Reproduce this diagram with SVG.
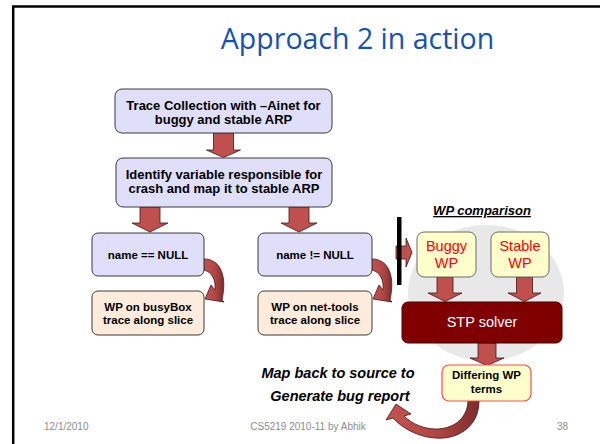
<svg xmlns="http://www.w3.org/2000/svg" width="600" height="444" viewBox="0 0 600 444">
  <defs>
    <linearGradient id="curlFill" x1="0" y1="0" x2="1" y2="0">
      <stop offset="0" stop-color="#C55451"/>
      <stop offset="0.55" stop-color="#B04644"/>
      <stop offset="1" stop-color="#7E2C2A"/>
    </linearGradient>
  </defs>
  <style>
    .frame{fill:none;stroke:#000;stroke-width:2.5}
    .lav{fill:#DFDFF9;stroke:#3a3a3a;stroke-width:1}
    .peach{fill:#FDEBDC;stroke:#3a3a3a;stroke-width:1}
    .pale{fill:#FFFFCC;stroke:#6a6a6a;stroke-width:1}
    .paleRed{fill:#FFFFCC;stroke:#FF4A4A;stroke-width:1.2}
    .solver{fill:#800000;stroke:#4a0000;stroke-width:1}
    .arrow{fill:#C0504D;stroke:#3f1716;stroke-width:0.8}
    .curl{fill:url(#curlFill);stroke:#3f1716;stroke-width:0.8}
    .b13{font-family:"Liberation Sans",Arial,sans-serif;font-weight:bold;font-size:13px;fill:#000;text-anchor:middle}
    .b11{font-family:"Liberation Sans",Arial,sans-serif;font-weight:bold;font-size:11.5px;fill:#000;text-anchor:middle}
    .red{font-family:"Liberation Sans",Arial,sans-serif;font-size:14.5px;fill:#FF0000;text-anchor:middle}
    .white{font-family:"Liberation Sans",Arial,sans-serif;font-size:14.5px;fill:#FFFFFF;text-anchor:middle}
    .bi{font-family:"Liberation Sans",Arial,sans-serif;font-weight:bold;font-style:italic;fill:#000;text-anchor:middle}
    .foot{font-family:"Liberation Sans",Arial,sans-serif;font-size:10px;fill:#8C8C8C}
    .title{font-family:"Open Sans","Noto Sans",sans-serif;font-size:28.5px;fill:#1553AE;text-anchor:middle}
  </style>

  <!-- slide frame -->
  <path class="frame" d="M13.2,444 V6.5 H600"/>

  <text class="title" x="357.5" y="49">Approach 2 in action</text>

  <!-- backdrop behind the comparison stage -->
  <ellipse cx="486" cy="293" rx="78" ry="68" fill="#E8E8E8"/>

  <!-- connectors -->
  <g id="connectors">
    <path class="arrow" d="M213.5,133 H233.5 V150 H240.5 L223.5,157.5 L206.5,150 H213.5 Z"/>
    <path class="arrow" d="M140,207 H160 V223 H168 L150,232 L132,223 H140 Z"/>
    <path class="arrow" d="M289,207 H309 V223 H317 L299,232 L281,223 H289 Z"/>
    <!-- curved hand-offs from each condition to its WP slice -->
    <path class="curl" d="M204,259 C218,259 228,272 222,300 L224,302 L205,299 L211,285 L215,290 C216,280 212,272 204,270 Z"/>
    <path class="curl" transform="translate(168,0)" d="M204,259 C218,259 228,272 222,300 L224,302 L205,299 L211,285 L215,290 C216,280 212,272 204,270 Z"/>
    <!-- feed into the comparison -->
    <path class="arrow" d="M396,246 H406 V238 L412,252.5 L406,267 V259 H396 Z"/>
    <rect x="397" y="217" width="4.5" height="68" fill="#000"/>
    <path class="arrow" d="M437,277 H453 V293 H462 L445,301.5 L428,293 H437 Z"/>
    <path class="arrow" d="M516.5,277 H532.5 V293 H541 L524.5,301.5 L508,293 H516.5 Z"/>
    <path class="arrow" d="M478,343 H496 V358 H504 L487,365.5 L470,358 H478 Z"/>
    <!-- loop back to the report -->
    <path class="curl" d="M479,401 C479,428 456,440 435,438 C418,437 402,428 393,418 L386,420 L396,404 L411,414 L404,416 C412,424 424,429 436,429 C452,429 467,420 468,401 Z"/>
  </g>

  <g id="trace-collection">
    <rect class="lav" x="115" y="89" width="217" height="44" rx="7"/>
    <text class="b13" x="223.5" y="110">Trace Collection with –Ainet for</text>
    <text class="b13" x="223.5" y="124">buggy and stable ARP</text>
  </g>

  <g id="identify-variable">
    <rect class="lav" x="116" y="158" width="216" height="49" rx="7"/>
    <text class="b13" x="224" y="179">Identify variable responsible for</text>
    <text class="b13" x="224" y="193">crash and map it to stable ARP</text>
  </g>

  <g id="name-null">
    <rect class="lav" x="92" y="233" width="112" height="43" rx="6"/>
    <text class="b11" x="148" y="259">name == NULL</text>
  </g>

  <g id="name-not-null">
    <rect class="lav" x="258" y="233" width="114" height="43" rx="6"/>
    <text class="b11" x="315" y="259">name != NULL</text>
  </g>

  <g id="wp-busybox">
    <rect class="peach" x="92" y="291" width="112" height="44" rx="6"/>
    <text class="b11" x="148" y="311">WP on busyBox</text>
    <text class="b11" x="148" y="324">trace along slice</text>
  </g>

  <g id="wp-nettools">
    <rect class="peach" x="258" y="291" width="114" height="44" rx="6"/>
    <text class="b11" x="315" y="311">WP on net-tools</text>
    <text class="b11" x="315" y="324">trace along slice</text>
  </g>

  <g id="wp-comparison-label">
    <text class="bi" x="482" y="215" font-size="13px" text-decoration="underline">WP comparison</text>
  </g>

  <g id="buggy-wp">
    <rect class="pale" x="417" y="232" width="59" height="45" rx="7"/>
    <text class="red" x="446.5" y="251">Buggy</text>
    <text class="red" x="446.5" y="268">WP</text>
  </g>

  <g id="stable-wp">
    <rect class="pale" x="491" y="232" width="58" height="45" rx="7"/>
    <text class="red" x="520" y="251">Stable</text>
    <text class="red" x="520" y="268">WP</text>
  </g>

  <g id="stp-solver">
    <rect class="solver" x="402" y="302" width="160" height="41" rx="6"/>
    <text class="white" x="482" y="327">STP solver</text>
  </g>

  <g id="differing-terms">
    <rect class="paleRed" x="442" y="365" width="89" height="36" rx="7"/>
    <text class="b11" x="486.5" y="379">Differing WP</text>
    <text class="b11" x="486.5" y="393">terms</text>
  </g>

  <g id="bug-report">
    <text class="bi" x="338" y="378" font-size="14.5px">Map back to source to</text>
    <text class="bi" x="340" y="401" font-size="14.5px">Generate bug report</text>
  </g>

  <!-- footer -->
  <text class="foot" x="44" y="430">12/1/2010</text>
  <text class="foot" x="308" y="430" text-anchor="middle">CS5219 2010-11 by Abhik</text>
  <text class="foot" x="568" y="430" text-anchor="end">38</text>
</svg>
